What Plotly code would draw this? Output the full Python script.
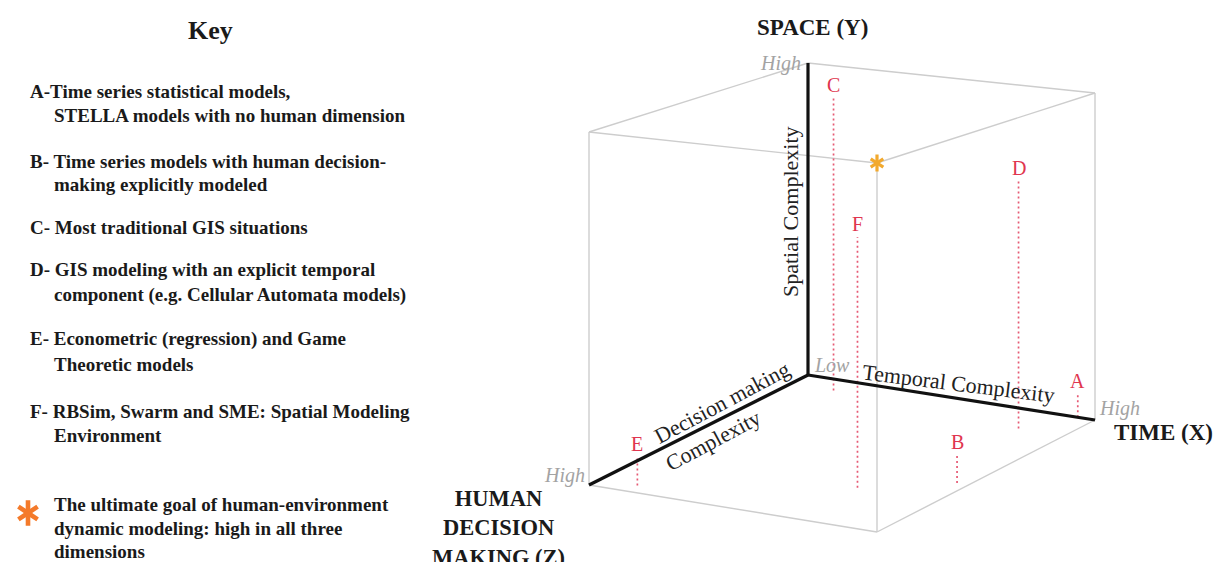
import numpy as np
import plotly.graph_objects as go

# ---------------- data ----------------
models = ["A", "B", "C", "D", "E", "F"]
# complexity of each model class on the three dimensions (0 = low, 1 = high)
temporal = [0.94, 0.96, 0.15, 0.84, 0.13, 0.72]
spatial = [0.07, 0.08, 0.92, 0.75, 0.08, 0.71]
decision = [0.00, 0.58, 0.08, 0.14, 0.95, 0.72]
goal = [1.0, 1.0, 1.0]  # high in all three dimensions

axis_titles = ["TIME (X)", "SPACE (Y)", "HUMAN<br>DECISION<br>MAKING (Z)"]
axis_names = ["Temporal Complexity", "Spatial Complexity", "Decision making", "Complexity"]
level_labels = ["Low", "High"]

key_title = "Key"
key_entries = [
    ["A-Time series statistical models,", "STELLA models with no human dimension"],
    ["B- Time series models with human decision-", "making explicitly modeled"],
    ["C- Most traditional GIS situations"],
    ["D- GIS modeling with an explicit temporal", "component (e.g. Cellular Automata models)"],
    ["E- Econometric (regression) and Game", "Theoretic models"],
    ["F- RBSim, Swarm and SME: Spatial Modeling", "Environment"],
]
goal_text = ["The ultimate goal of human-environment", "dynamic modeling: high in all three", "dimensions"]

# cube corners (temporal, spatial, decision) and its edges
corners = {
    "O": (0, 0, 0), "X": (1, 0, 0), "Y": (0, 1, 0), "Z": (0, 0, 1),
    "XY": (1, 1, 0), "YZ": (0, 1, 1), "XZ": (1, 0, 1), "XYZ": (1, 1, 1),
}
cube_edges = [("Y", "XY"), ("Y", "YZ"), ("YZ", "XYZ"), ("XYZ", "XY"),
              ("YZ", "Z"), ("XYZ", "XZ"), ("XY", "X"), ("Z", "XZ"), ("XZ", "X")]
main_axes = [("O", "X"), ("O", "Y"), ("O", "Z")]

# ---------------- view (oblique projection with slight perspective) ----------------
W, H = 1213, 562


def project(t, s, d):
    bx = 808 + 287 * t - 219 * d + 1 * t * d
    by = 375 + 45 * t + 110 * d + 2 * t * d
    h = 312 + 15 * t + 41 * d + 1 * t * d
    return bx, by - s * h


SERIF = "Liberation Serif, Times New Roman, serif"
RED = "#e0364f"
RED_LINE = "#e65a74"
GRAY_EDGE = "#cdcdcd"
GRAY_TXT = "#a3a3a3"

fig = go.Figure()

# cube edges
for a, b in cube_edges:
    p, q = project(*corners[a]), project(*corners[b])
    fig.add_trace(go.Scatter(x=[p[0], q[0]], y=[p[1], q[1]], mode="lines",
                             line=dict(color=GRAY_EDGE, width=1.4), hoverinfo="skip"))

# model stems
for m, t, s, d in zip(models, temporal, spatial, decision):
    p, q = project(t, 0, d), project(t, s, d)
    fig.add_trace(go.Scatter(x=[p[0], q[0]], y=[p[1], q[1]], mode="lines",
                             line=dict(color=RED_LINE, width=1.7, dash="2px,3px"), hoverinfo="skip"))

# main axes
for a, b in main_axes:
    p, q = project(*corners[a]), project(*corners[b])
    fig.add_trace(go.Scatter(x=[p[0], q[0]], y=[p[1], q[1]], mode="lines",
                             line=dict(color="#111111", width=3.2), hoverinfo="skip"))

# goal star in cube
gx, gy = project(*goal)
for sym in ["y-up-open", "y-down-open"]:
    fig.add_trace(go.Scatter(x=[gx], y=[gy], mode="markers", hoverinfo="skip",
                             marker=dict(symbol=sym, size=10.5, color="#f2a92e",
                                         line=dict(color="#f2a92e", width=3.2))))

# legend star
star_pos = (28, 513)
for sym in ["y-up-open", "y-down-open"]:
    fig.add_trace(go.Scatter(x=[star_pos[0]], y=[star_pos[1]], mode="markers", hoverinfo="skip",
                             marker=dict(symbol=sym, size=16, color="#f47a2a",
                                         line=dict(color="#f47a2a", width=4.6))))

ann = []


def txt(x, y, text, size, color="#1a1a1a", bold=False, italic=False, xanchor="center",
        angle=0, yanchor="middle", xshift=0, yshift=0):
    t = text
    if bold:
        t = "<b>" + t + "</b>"
    if italic:
        t = "<i>" + t + "</i>"
    ann.append(dict(x=x, y=y, xref="x", yref="y", text=t, showarrow=False,
                    font=dict(family=SERIF, size=size, color=color),
                    xanchor=xanchor, yanchor=yanchor, textangle=angle,
                    xshift=xshift, yshift=yshift, align="center"))


# model letters
for m, t, s, d in zip(models, temporal, spatial, decision):
    x, y = project(t, s, d)
    txt(x, y, m, 20, color=RED, yshift=13)

# axis titles
ox, oy = project(0, 0, 0)
xx, xy_ = project(1, 0, 0)
yx, yy = project(0, 1, 0)
zx, zy = project(0, 0, 1)
txt(yx + 4, yy - 36, axis_titles[1], 23, bold=True)
txt(xx + 68, xy_ + 12, axis_titles[0], 23, bold=True)
txt(zx - 91, zy + 43, axis_titles[2], 22.5, bold=True)

# level labels
txt(ox + 4, oy - 10, level_labels[0], 20, color=GRAY_TXT, italic=True, xanchor="left")
txt(yx - 5, yy, level_labels[1], 20, color=GRAY_TXT, italic=True, xanchor="right")
txt(xx + 2, xy_ - 12, level_labels[1], 20, color=GRAY_TXT, italic=True, xanchor="left")
txt(zx - 2, zy - 10, level_labels[1], 20, color=GRAY_TXT, italic=True, xanchor="right")

# dimension names along axes
txt(790, 212, axis_names[1], 22, color="#222222", angle=-90)
txt(958, 383, axis_names[0], 22, color="#222222", angle=7)
txt(722, 402, axis_names[2], 22, color="#222222", angle=-28)
txt(713, 440, axis_names[3], 22, color="#222222", angle=-28)

# key
txt(210, 30, key_title, 26, bold=True)
line_y = [[91, 115], [161, 184], [227], [269, 295], [339, 364], [411, 435]]
for entry, ys in zip(key_entries, line_y):
    for i, (line, y) in enumerate(zip(entry, ys)):
        txt(28 if i == 0 else 52, y, line, 19, bold=True, xanchor="left")
for line, y in zip(goal_text, [504, 528, 551]):
    txt(52, y, line, 19, bold=True, xanchor="left")

fig.update_layout(
    width=W, height=H, margin=dict(l=0, r=0, t=0, b=0),
    paper_bgcolor="white", plot_bgcolor="white", showlegend=False,
    xaxis=dict(range=[0, W], visible=False, fixedrange=True),
    yaxis=dict(range=[H, 0], visible=False, fixedrange=True),
    annotations=ann,
)
fig.write_html("out.html", config={"displayModeBar": False},
               post_script="document.body.style.margin='0px';document.body.style.overflow='hidden';")
